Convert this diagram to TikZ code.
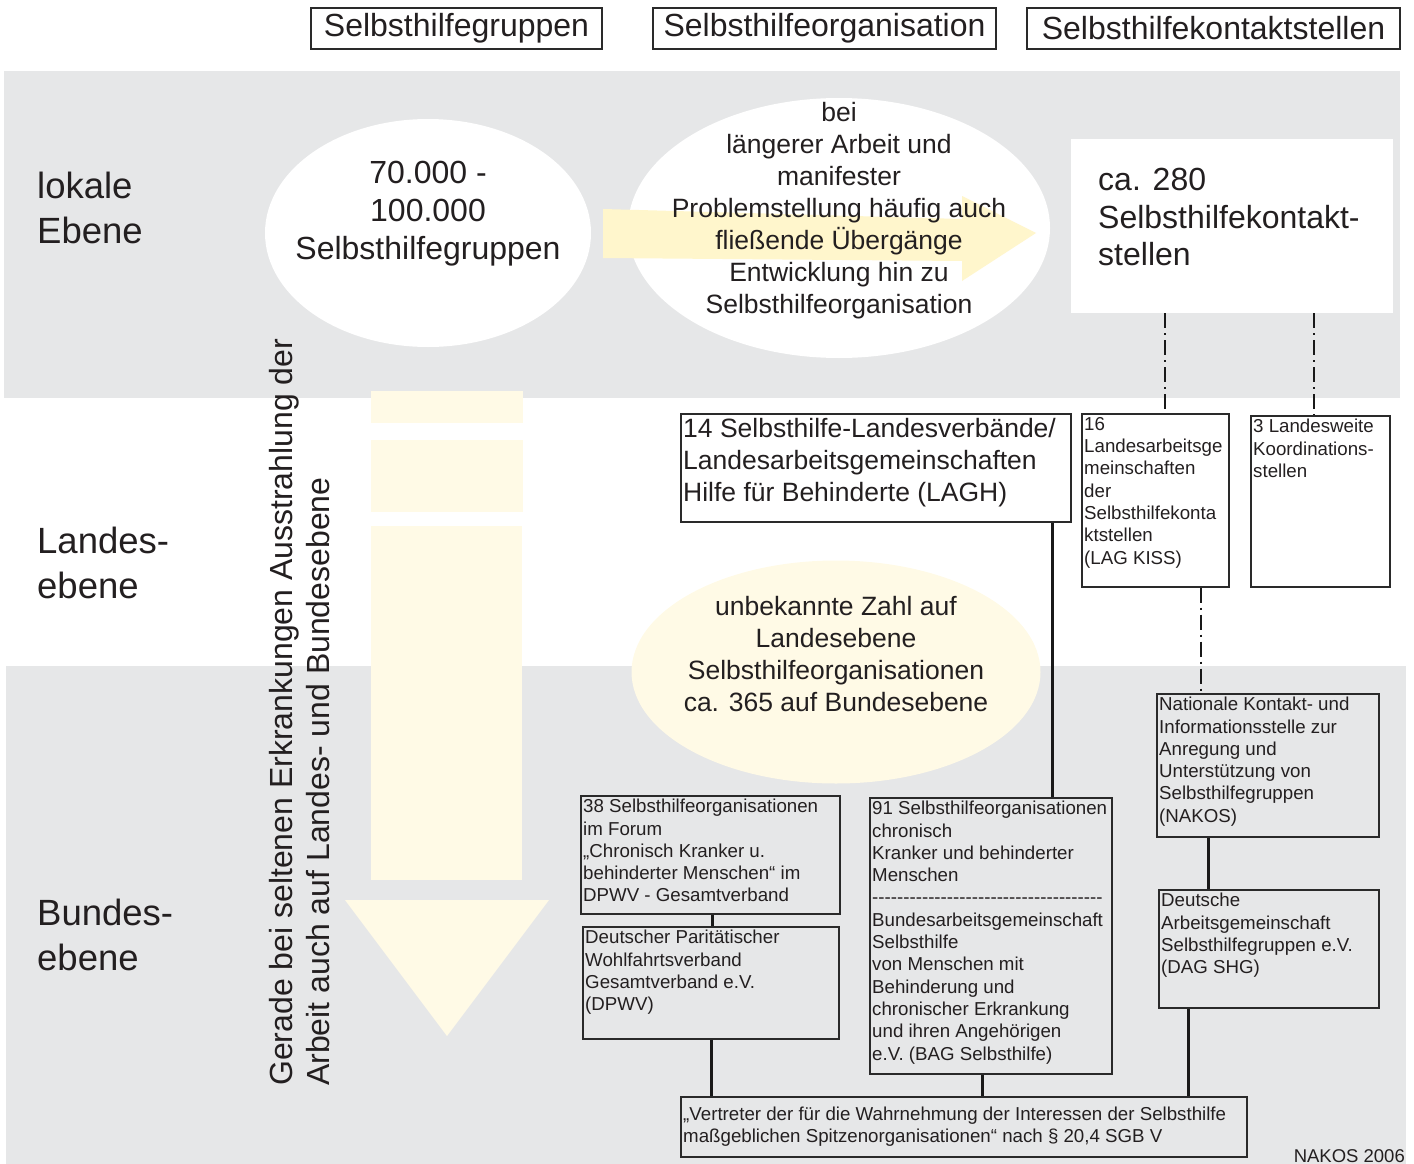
\documentclass[tikz,border=0pt]{standalone}
\usepackage{fontspec}
\setmainfont{Liberation Sans}
\usepackage{xcolor}
\usepackage{tikz}
\usetikzlibrary{shapes,arrows,positioning,calc}

\definecolor{bandgray}{HTML}{E6E7E8}
\definecolor{paleyellow}{HTML}{FFFAE6}
\definecolor{arrowyellow}{HTML}{FFF6CC}
\definecolor{inkgray}{HTML}{231F20}
\definecolor{boxline}{HTML}{2A2A2A}

\newcommand{\hyphenline}{\foreach \k in {1,...,37}{-\kern0pt}}

\begin{document}
\begin{tikzpicture}[x=1pt, y=-1pt, every node/.style={text=inkgray},
    band/.style={fill=bandgray, draw=none},
    hdrbox/.style={draw=boxline, line width=1.5pt, minimum height=41, inner sep=0pt, font=\fontsize{32}{38}\selectfont},
    orgbox/.style={draw=boxline, line width=1.7pt, anchor=north west, inner sep=0pt},
    boxtext/.style={anchor=north west, align=left, inner xsep=3pt, inner ysep=4pt, font=\fontsize{18.7}{22.3}\selectfont},
    midtext/.style={align=center, inner sep=0pt, font=\fontsize{26.5}{32}\selectfont},
    level/.style={anchor=north west, align=left, inner sep=0pt, font=\fontsize{36.5}{45}\selectfont},
    link/.style={draw=black!90, line width=2.8pt},
    dashlink/.style={draw=black!90, line width=2.6pt, dash pattern=on 15pt off 5pt on 2pt off 5pt}]

    \useasboundingbox (0,0) rectangle (1414,1164);

    % Ebenen
    \fill[band] (4,71) rectangle (1400,398);
    \fill[band] (6,666) rectangle (1406,1164);

    \node[level] (lokal) at (37,172) {lokale\\Ebene};
    \node[level] (landes) at (37,527) {Landes-\\ebene};
    \node[level] (bundes) at (37,899) {Bundes-\\ebene};

    % Spalten
    \node[hdrbox, minimum width=291] (hdrgruppen) at (456.5,28.5) {Selbsthilfegruppen};
    \node[hdrbox, minimum width=343] (hdrorg) at (824.5,28.5) {Selbsthilfeorganisation};
    \node[hdrbox, minimum width=373] (hdrkontakt) at (1213.5,28.5) {Selbsthilfekontaktstellen};

    % Pfeil nach unten
    \fill[paleyellow] (371,391) rectangle (523,423);
    \fill[paleyellow] (371,440) rectangle (523,512);
    \fill[paleyellow] (371,526) rectangle (522,880);
    \fill[paleyellow] (345,900) -- (549,900) -- (447,1036) -- cycle;

    % lokale Ebene
    \node[ellipse, fill=white, minimum width=326, minimum height=228, inner sep=0pt] (gruppenoval) at (428,233) {};
    \node[ellipse, fill=white, minimum width=422, minimum height=260, inner sep=0pt] (orgoval) at (839,228) {};
    \fill[arrowyellow] (603,209) -- (962,219) -- (962,196) -- (1036,233) -- (962,281) -- (962,261) -- (603,258) -- cycle;

    \node[align=center, inner sep=0pt, font=\fontsize{32}{38}\selectfont] (gruppentext) at (428,214) {70.000 -\\100.000\\Selbsthilfegruppen};
    \node[midtext] (orgtext) at (839,211) {bei\\längerer Arbeit und\\manifester\\Problemstellung häufig auch\\fließende Übergänge\\Entwicklung hin zu\\Selbsthilfeorganisation};

    \node[fill=white, anchor=north west, minimum width=322, minimum height=174, inner sep=0pt] (kontaktbox) at (1071,139) {};
    \node[anchor=west, align=left, inner sep=0pt, font=\fontsize{32}{37.5}\selectfont] (kontakttext) at (1098,217) {ca. 280\\Selbsthilfekontakt-\\stellen};

    % Landesebene
    \node[orgbox, minimum width=390, minimum height=108] (lagh) at (680,413) {};
    \node[boxtext, inner ysep=5pt, font=\fontsize{26.5}{32}\selectfont] (laghtext) at (lagh.north west) {14 Selbsthilfe-Landesverbände/\\Landesarbeitsgemeinschaften\\Hilfe für Behinderte (LAGH)};

    \node[orgbox, minimum width=147, minimum height=173] (lagkiss) at (1081,413) {};
    \node[boxtext] (lagkisstext) at (lagkiss.north west) {16\\Landesarbeitsge\\meinschaften\\der\\Selbsthilfekonta\\ktstellen\\(LAG KISS)};

    \node[orgbox, minimum width=139, minimum height=171] (koord) at (1250,415) {};
    \node[boxtext] (koordtext) at (koord.north west) {3 Landesweite\\Koordinations-\\stellen};

    \node[ellipse, fill=paleyellow, minimum width=409, minimum height=223, inner sep=0pt] (unknownoval) at (836,672) {};
    \node[midtext, font=\fontsize{26.5}{32.3}\selectfont] (unknowntext) at (836,654) {unbekannte Zahl auf\\Landesebene\\Selbsthilfeorganisationen\\ca. 365 auf Bundesebene};

    % Bundesebene
    \node[orgbox, minimum width=259, minimum height=118] (forum) at (580,795) {};
    \node[boxtext] (forumtext) at (forum.north west) {38 Selbsthilfeorganisationen\\im Forum\\„Chronisch Kranker u.\\behinderter Menschen“ im\\DPWV - Gesamtverband};

    \node[orgbox, minimum width=256, minimum height=112] (dpwv) at (582,926) {};
    \node[boxtext] (dpwvtext) at (dpwv.north west) {Deutscher Paritätischer\\Wohlfahrtsverband\\Gesamtverband e.V.\\(DPWV)};

    \node[orgbox, minimum width=242, minimum height=276] (bag) at (869,797) {};
    \node[boxtext] (bagtext) at (bag.north west) {91 Selbsthilfeorganisationen\\chronisch\\Kranker und behinderter\\Menschen\\\hyphenline\\Bundesarbeitsgemeinschaft\\Selbsthilfe\\von Menschen mit\\Behinderung und\\chronischer Erkrankung\\und ihren Angehörigen\\e.V. (BAG Selbsthilfe)};

    \node[orgbox, minimum width=222, minimum height=143] (nakos) at (1156,693) {};
    \node[boxtext] (nakostext) at (nakos.north west) {Nationale Kontakt- und\\Informationsstelle zur\\Anregung und\\Unterstützung von\\Selbsthilfegruppen\\(NAKOS)};

    \node[orgbox, minimum width=220, minimum height=118] (dag) at (1158,889) {};
    \node[boxtext] (dagtext) at (dag.north west) {Deutsche\\Arbeitsgemeinschaft\\Selbsthilfegruppen e.V.\\(DAG SHG)};

    \node[orgbox, minimum width=566, minimum height=60] (vertreter) at (680,1096) {};
    \node[boxtext, anchor=west] (vertretertext) at (vertreter.west) {„Vertreter der für die Wahrnehmung der Interessen der Selbsthilfe\\maßgeblichen Spitzenorganisationen“ nach § 20,4 SGB V};

    % Verbindungen
    \draw[dashlink] ([xshift=9.5]lagkiss.north |- kontaktbox.south) -- ([xshift=9.5]lagkiss.north);
    \draw[dashlink] ([xshift=-6.5]koord.north |- kontaktbox.south) -- ([xshift=-6.5]koord.north);
    \draw[dashlink] ([xshift=45.5]lagkiss.south) -- ([xshift=45.5]lagkiss.south |- nakos.north);
    \draw[link] ([xshift=177]lagh.south) -- ([xshift=177]lagh.south |- bag.north);
    \draw[link] ([xshift=2.5]forum.south) -- ([xshift=2.5]forum.south |- dpwv.north);
    \draw[link] ([xshift=1]dpwv.south) -- ([xshift=1]dpwv.south |- vertreter.north);
    \draw[link] ([xshift=-8.5]bag.south) -- ([xshift=-8.5]bag.south |- vertreter.north);
    \draw[link] ([xshift=-59]nakos.south) -- ([xshift=-59]nakos.south |- dag.north);
    \draw[link] ([xshift=-80]dag.south) -- ([xshift=-80]dag.south |- vertreter.north);

    % Ausstrahlung
    \node[rotate=90, anchor=north west, align=left, inner sep=0pt, font=\fontsize{32}{37.5}\selectfont] (radiation) at (269,1086) {Gerade bei seltenen Erkrankungen Ausstrahlung der\\Arbeit auch auf Landes- und Bundesebene};

    \node[anchor=base east, inner sep=0pt, font=\fontsize{18.5}{22}\selectfont] (source) at (1405,1162.5) {NAKOS 2006};
\end{tikzpicture}
\end{document}
